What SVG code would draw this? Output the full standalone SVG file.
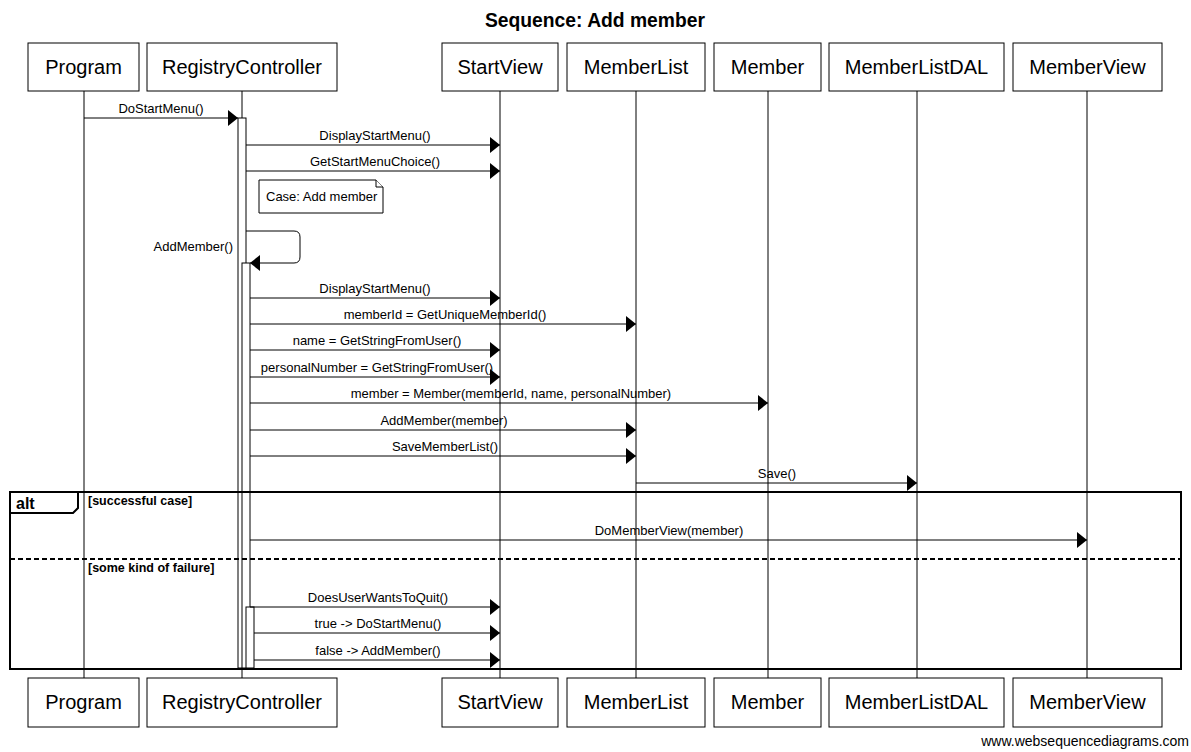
<svg xmlns="http://www.w3.org/2000/svg" width="1191" height="752" viewBox="0 0 1191 752">
  <style>
    text { font-family: "Liberation Sans", Arial, sans-serif; fill: #000; }
    .title { font-size: 19.3px; font-weight: bold; text-anchor: middle; }
    .pbox { fill: #fff; stroke: #000; stroke-width: 1; }
    .pname { font-size: 20px; text-anchor: middle; }
    .life { stroke: #000; stroke-width: 1; }
    .act { fill: #fff; stroke: #000; stroke-width: 1; }
    .msg { stroke: #000; stroke-width: 1; fill: none; }
    .lbl { font-size: 13px; text-anchor: middle; }
    .frame { fill: none; stroke: #000; stroke-width: 2; }
    .guard { font-size: 12.5px; font-weight: bold; }
    .note { fill: #fff; stroke: #000; stroke-width: 1; }
  </style>
  <defs>
    <marker id="arrow" markerWidth="10" markerHeight="16" refX="10" refY="8" orient="auto" markerUnits="userSpaceOnUse">
      <path d="M0,0 L10,8 L0,16 Z" fill="#000"/>
    </marker>
  </defs>

  <text class="title" x="595" y="27">Sequence: Add member</text>

  <!-- lifelines -->
  <g id="lifelines">
    <line class="life" x1="84" y1="91" x2="84" y2="678"/>
    <line class="life" x1="242" y1="91" x2="242" y2="678"/>
    <line class="life" x1="500" y1="91" x2="500" y2="678"/>
    <line class="life" x1="636" y1="91" x2="636" y2="678"/>
    <line class="life" x1="768" y1="91" x2="768" y2="678"/>
    <line class="life" x1="917" y1="91" x2="917" y2="678"/>
    <line class="life" x1="1087" y1="91" x2="1087" y2="678"/>
  </g>

  <!-- participants (top and bottom) -->
  <g id="Program">
    <rect class="pbox" x="28" y="43" width="111" height="48"/>
    <text class="pname" x="83.5" y="74">Program</text>
    <rect class="pbox" x="28" y="678" width="111" height="49"/>
    <text class="pname" x="83.5" y="709">Program</text>
  </g>
  <g id="RegistryController">
    <rect class="pbox" x="147" y="43" width="190" height="48"/>
    <text class="pname" x="242" y="74">RegistryController</text>
    <rect class="pbox" x="147" y="678" width="190" height="49"/>
    <text class="pname" x="242" y="709">RegistryController</text>
  </g>
  <g id="StartView">
    <rect class="pbox" x="442" y="43" width="116" height="48"/>
    <text class="pname" x="500" y="74">StartView</text>
    <rect class="pbox" x="442" y="678" width="116" height="49"/>
    <text class="pname" x="500" y="709">StartView</text>
  </g>
  <g id="MemberList">
    <rect class="pbox" x="567" y="43" width="138" height="48"/>
    <text class="pname" x="636" y="74">MemberList</text>
    <rect class="pbox" x="567" y="678" width="138" height="49"/>
    <text class="pname" x="636" y="709">MemberList</text>
  </g>
  <g id="Member">
    <rect class="pbox" x="714" y="43" width="107" height="48"/>
    <text class="pname" x="767.5" y="74">Member</text>
    <rect class="pbox" x="714" y="678" width="107" height="49"/>
    <text class="pname" x="767.5" y="709">Member</text>
  </g>
  <g id="MemberListDAL">
    <rect class="pbox" x="829" y="43" width="175" height="48"/>
    <text class="pname" x="916.5" y="74">MemberListDAL</text>
    <rect class="pbox" x="829" y="678" width="175" height="49"/>
    <text class="pname" x="916.5" y="709">MemberListDAL</text>
  </g>
  <g id="MemberView">
    <rect class="pbox" x="1013" y="43" width="149" height="48"/>
    <text class="pname" x="1087.5" y="74">MemberView</text>
    <rect class="pbox" x="1013" y="678" width="149" height="49"/>
    <text class="pname" x="1087.5" y="709">MemberView</text>
  </g>

  <!-- activation bars on RegistryController -->
  <g id="activations">
    <rect class="act" x="238" y="118" width="8" height="550"/>
    <rect class="act" x="242" y="263" width="8" height="405"/>
    <rect class="act" x="246" y="607" width="8" height="61"/>
  </g>

  <!-- note -->
  <g id="note-case">
    <path class="note" d="M259,180 H376 L383,187 V213 H259 Z"/>
    <path class="note" d="M376,180 V187 H383"/>
    <text x="266" y="201" style="font-size:13px">Case: Add member</text>
  </g>

  <!-- alt frame -->
  <g id="alt-frame">
    <rect class="frame" x="10" y="492" width="1171" height="177"/>
    <path class="frame" d="M10,513 H73 L78,508 V492"/>
    <text x="16" y="509" style="font-size:16px;font-weight:bold">alt</text>
    <text class="guard" x="88" y="505">[successful case]</text>
    <line x1="10" y1="559" x2="1181" y2="559" stroke="#000" stroke-width="2" stroke-dasharray="5,3"/>
    <text class="guard" x="88" y="572">[some kind of failure]</text>
  </g>

  <!-- messages -->
  <g id="connectors">
    <line class="msg" x1="84" y1="118" x2="238" y2="118" marker-end="url(#arrow)"/>
    <text class="lbl" x="161" y="113">DoStartMenu()</text>

    <line class="msg" x1="246" y1="145" x2="500" y2="145" marker-end="url(#arrow)"/>
    <text class="lbl" x="375" y="140">DisplayStartMenu()</text>

    <line class="msg" x1="246" y1="171" x2="500" y2="171" marker-end="url(#arrow)"/>
    <text class="lbl" x="375" y="166">GetStartMenuChoice()</text>

    <path class="msg" d="M246,231 H294 Q300,231 300,237 V257 Q300,263 294,263 H250" marker-end="url(#arrow)"/>
    <text class="lbl" x="233" y="251" style="text-anchor:end">AddMember()</text>

    <line class="msg" x1="250" y1="298" x2="500" y2="298" marker-end="url(#arrow)"/>
    <text class="lbl" x="375" y="293">DisplayStartMenu()</text>

    <line class="msg" x1="250" y1="324" x2="636" y2="324" marker-end="url(#arrow)"/>
    <text class="lbl" x="445" y="319">memberId = GetUniqueMemberId()</text>

    <line class="msg" x1="250" y1="350" x2="500" y2="350" marker-end="url(#arrow)"/>
    <text class="lbl" x="377" y="345">name = GetStringFromUser()</text>

    <line class="msg" x1="250" y1="377" x2="500" y2="377" marker-end="url(#arrow)"/>
    <text class="lbl" x="377" y="372">personalNumber = GetStringFromUser()</text>

    <line class="msg" x1="250" y1="403" x2="768" y2="403" marker-end="url(#arrow)"/>
    <text class="lbl" x="511" y="398">member = Member(memberId, name, personalNumber)</text>

    <line class="msg" x1="250" y1="430" x2="636" y2="430" marker-end="url(#arrow)"/>
    <text class="lbl" x="444" y="425">AddMember(member)</text>

    <line class="msg" x1="250" y1="456" x2="636" y2="456" marker-end="url(#arrow)"/>
    <text class="lbl" x="445" y="451">SaveMemberList()</text>

    <line class="msg" x1="636" y1="483" x2="917" y2="483" marker-end="url(#arrow)"/>
    <text class="lbl" x="777" y="478">Save()</text>

    <line class="msg" x1="250" y1="540" x2="1087" y2="540" marker-end="url(#arrow)"/>
    <text class="lbl" x="669" y="535">DoMemberView(member)</text>

    <line class="msg" x1="250" y1="607" x2="500" y2="607" marker-end="url(#arrow)"/>
    <text class="lbl" x="378" y="602">DoesUserWantsToQuit()</text>

    <line class="msg" x1="254" y1="633" x2="500" y2="633" marker-end="url(#arrow)"/>
    <text class="lbl" x="378" y="628">true -&gt; DoStartMenu()</text>

    <line class="msg" x1="254" y1="660" x2="500" y2="660" marker-end="url(#arrow)"/>
    <text class="lbl" x="378" y="655">false -&gt; AddMember()</text>
  </g>

  <text x="1189" y="746" style="font-size:14px;text-anchor:end">www.websequencediagrams.com</text>
</svg>
